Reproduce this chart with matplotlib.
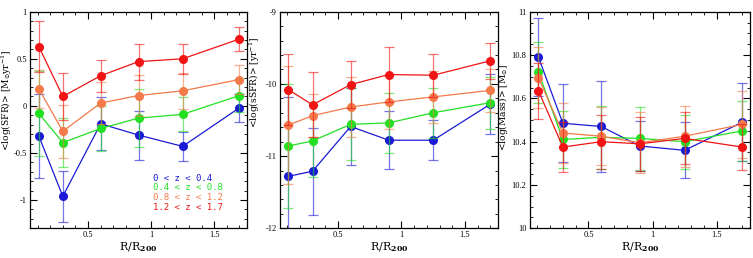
import matplotlib
matplotlib.use("Agg")
import matplotlib.pyplot as plt
from matplotlib.ticker import MultipleLocator

plt.rcParams['font.family'] = ['Liberation Serif', 'DejaVu Serif']
plt.rcParams['mathtext.fontset'] = 'dejavuserif'

r = [0.11, 0.3, 0.6, 0.9, 1.25, 1.7]
labels = ["0 < z < 0.4", "0.4 < z < 0.8", "0.8 < z < 1.2", "1.2 < z < 1.7"]
colors = ["#1a1ad6", "#22e022", "#f47a4a", "#f01414"]

# Panel 1: <log(SFR)>
sfr = [
    [-0.32, -0.96, -0.19, -0.31, -0.43, -0.02],
    [-0.08, -0.39, -0.24, -0.13, -0.09, 0.11],
    [0.18, -0.27, 0.03, 0.11, 0.16, 0.28],
    [0.63, 0.10, 0.32, 0.47, 0.50, 0.71],
]
sfr_err = [
    [0.45, 0.27, 0.28, 0.26, 0.155, 0.15],
    [0.45, 0.26, 0.24, 0.31, 0.18, 0.18],
    [0.20, 0.28, 0.22, 0.22, 0.19, 0.15],
    [0.27, 0.25, 0.17, 0.19, 0.16, 0.13],
]

# Panel 2: <log(sSFR)>
ssfr = [
    [-11.28, -11.21, -10.59, -10.78, -10.78, -10.28],
    [-10.86, -10.79, -10.56, -10.54, -10.40, -10.26],
    [-10.57, -10.44, -10.32, -10.25, -10.18, -10.09],
    [-10.08, -10.29, -10.01, -9.87, -9.88, -9.68],
]
ssfr_err = [
    [1.10, 0.60, 0.54, 0.40, 0.28, 0.42],
    [0.86, 0.50, 0.50, 0.42, 0.35, 0.36],
    [0.82, 0.30, 0.42, 0.38, 0.36, 0.30],
    [0.49, 0.45, 0.33, 0.38, 0.30, 0.25],
]

# Panel 3: <log(Mass)>
mass = [
    [10.79, 10.485, 10.47, 10.38, 10.36, 10.49],
    [10.72, 10.41, 10.42, 10.415, 10.40, 10.45],
    [10.695, 10.44, 10.425, 10.395, 10.425, 10.48],
    [10.635, 10.375, 10.40, 10.39, 10.415, 10.375],
]
mass_err = [
    [0.18, 0.18, 0.21, 0.115, 0.13, 0.18],
    [0.14, 0.13, 0.145, 0.145, 0.125, 0.14],
    [0.14, 0.14, 0.135, 0.14, 0.14, 0.155],
    [0.13, 0.115, 0.125, 0.125, 0.12, 0.105],
]

yticks = [
    ([1, 0.5, 0, -0.5, -1], ["1", "0.5", "0", "-0.5", "-1"]),
    ([-9, -10, -11, -12], ["-9", "-10", "-11", "-12"]),
    ([10, 10.2, 10.4, 10.6, 10.8, 11], ["10", "10.2", "10.4", "10.6", "10.8", "11"]),
]
xticks = ([0.5, 1.0, 1.5], ["0.5", "1", "1.5"])

panels = [
    (sfr, sfr_err, (-1.3, 1.0), 0.1, r"<log(SFR)> [M$_{\odot}$yr$^{-1}$]"),
    (ssfr, ssfr_err, (-12, -9), 0.2, r"<log(sSFR)> [yr$^{-1}$]"),
    (mass, mass_err, (10, 11), 0.05, r"<log(Mass)> [M$_{\odot}$]"),
]
label_pos = [(-0.076, 0.59), (-0.082, 0.675), (-0.088, 0.56)]

fig = plt.figure(figsize=(7.53, 2.58), dpi=100)
W, H = 753, 258
boxes = [(30, 247), (279.5, 498), (529.5, 750)]
top, bottom = 11.7, 228.3

for i, (data, err, ylim, minor, ylabel) in enumerate(panels):
    x0, x1 = boxes[i]
    ax = fig.add_axes([x0 / W, 1 - bottom / H, (x1 - x0) / W, (bottom - top) / H])
    for k in range(4):
        ax.errorbar(r, data[k], yerr=err[k], color=colors[k], lw=0.9,
                    elinewidth=0.9, capsize=3.5, capthick=0.9,
                    marker='o', ms=5.5, mec=colors[k], mfc=colors[k],
                    ecolor=colors[k] + "99", zorder=3 + k)
    ax.set_xlim(0.04, 1.76)
    ax.xaxis.set_minor_locator(MultipleLocator(0.1))
    ax.yaxis.set_minor_locator(MultipleLocator(minor))
    ax.tick_params(which='both', direction='in', top=True, right=True, labelsize=6, pad=2.2)
    ax.tick_params(which='major', length=5, width=0.8)
    ax.tick_params(which='minor', length=2.5, width=0.6)
    for s in ax.spines.values():
        s.set_linewidth(0.9)
    ax.set_xticks(xticks[0])
    ax.set_xticklabels(xticks[1])
    ax.set_yticks(yticks[i][0])
    ax.set_yticklabels(yticks[i][1])
    ax.set_ylim(*ylim)
    ax.set_xlabel(r"R/R$_{\mathbf{200}}$", fontsize=8, labelpad=1,
                  family=['DejaVu Serif'])
    ax.set_ylabel(ylabel, fontsize=6.6, family=['DejaVu Serif'])
    ax.yaxis.set_label_coords(*label_pos[i])
    if i == 0:
        for k in range(4):
            ax.text(0.565, 0.232 - k * 0.045, labels[k], transform=ax.transAxes,
                    color=colors[k], fontsize=6.5, family='DejaVu Sans Mono',
                    va='center', ha='left')

fig.savefig("out.png", dpi=100)
